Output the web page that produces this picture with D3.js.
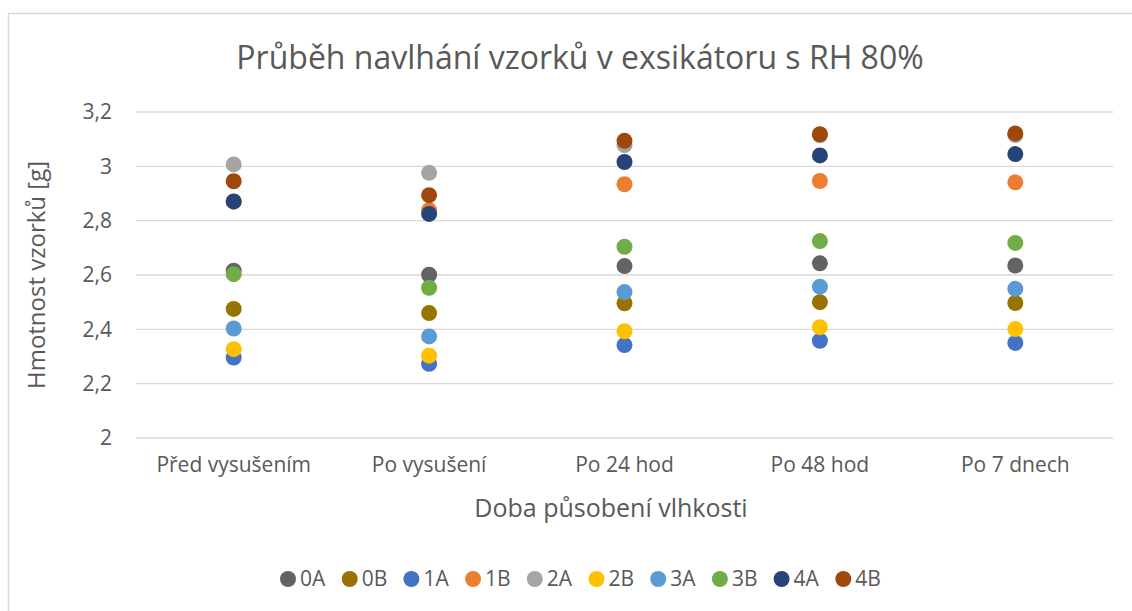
<!DOCTYPE html>
<html>
<head>
<meta charset="utf-8">
<script src="https://cdn.jsdelivr.net/npm/d3@7"></script>
<style>
  body { margin: 0; background: #fff; }
  text { font-family: "Open Sans", sans-serif; fill: #595959; }
</style>
</head>
<body>
<div id="chart-area"></div>
<script>
// popisky osy x
var categories = ["Před vysušením", "Po vysušení", "Po 24 hod", "Po 48 hod", "Po 7 dnech"];
var seriesNames = ["0A", "0B", "1A", "1B", "2A", "2B", "3A", "3B", "4A", "4B"];
var seriesColors = ["#636363", "#997300", "#4472C4", "#ED7D31", "#A5A5A5", "#FFC000", "#5B9BD5", "#70AD47", "#264478", "#9E480E"];
var yTicks = [2, 2.2, 2.4, 2.6, 2.8, 3, 3.2];

// hmotnosti [g]
var s0A = [2.616, 2.601, 2.633, 2.643, 2.635];
var s0B = [2.475, 2.460, 2.496, 2.500, 2.497];
var s1A = [2.296, 2.273, 2.342, 2.358, 2.350];
var s1B = [2.870, 2.839, 2.934, 2.946, 2.941];
var s2A = [3.007, 2.976, 3.078, 3.114, 3.115];
var s2B = [2.327, 2.303, 2.393, 2.408, 2.401];
var s3A = [2.403, 2.374, 2.537, 2.557, 2.549];
var s3B = [2.603, 2.553, 2.704, 2.725, 2.718];
var s4A = [2.871, 2.825, 3.016, 3.040, 3.045];
var s4B = [2.945, 2.894, 3.094, 3.118, 3.121];
var allSeries = [s0A, s0B, s1A, s1B, s2A, s2B, s3A, s3B, s4A, s4B];

const W = 1132, H = 611;
var margin = { top: 112, right: 19, bottom: 173, left: 136 };
var width = W - margin.left - margin.right,
    height = H - margin.top - margin.bottom;

var svg = d3.select("#chart-area")
    .append("svg")
        .attr("width", W)
        .attr("height", H);

// ramecek grafu
svg.append("rect")
    .attr("x", 8.5).attr("y", 13.5)
    .attr("width", W).attr("height", H)
    .attr("fill", "none")
    .attr("stroke", "#d9d9d9")
    .attr("stroke-width", 1.5);

var g = svg.append("g")
    .attr("transform", "translate(" + margin.left + ", " + margin.top + ")");

var x = d3.scaleBand().domain(categories).range([0, width]);
var y = d3.scaleLinear().domain([2, 3.2]).range([height, 0]);

// mrizka
g.append("g")
    .selectAll("line")
    .data(yTicks)
    .enter()
    .append("line")
        .attr("x1", 0).attr("x2", width)
        .attr("y1", d => y(d)).attr("y2", d => y(d))
        .attr("stroke", "#d9d9d9")
        .attr("stroke-width", 1.3);

var fmt = d => String(d).replace(".", ",");

var yAxis = g.append("g")
    .call(d3.axisLeft(y).tickValues(yTicks).tickFormat(fmt).tickSize(0).tickPadding(24));
yAxis.select(".domain").remove();
yAxis.selectAll("text").attr("font-size", "21px").attr("fill", "#595959").attr("font-family", "Open Sans");

var xAxis = g.append("g")
    .attr("transform", "translate(0, " + height + ")")
    .call(d3.axisBottom(x).tickSize(0).tickPadding(19));
xAxis.select(".domain").remove();
xAxis.selectAll("text").attr("font-size", "21px").attr("fill", "#595959").attr("font-family", "Open Sans");

// body
allSeries.forEach(function(vals, i) {
    g.append("g")
        .selectAll("circle")
        .data(vals)
        .enter()
        .append("circle")
            .attr("cx", (d, j) => x(categories[j]) + x.bandwidth() / 2)
            .attr("cy", d => y(d))
            .attr("r", 8)
            .attr("fill", seriesColors[i]);
});

// nadpis
svg.append("text")
    .attr("x", 580)
    .attr("y", 69)
    .attr("text-anchor", "middle")
    .attr("font-size", "32px")
    .text("Průběh navlhání vzorků v exsikátoru s RH 80%");

svg.append("text")
    .attr("x", 611)
    .attr("y", 517)
    .attr("text-anchor", "middle")
    .attr("font-size", "25px")
    .text("Doba působení vlhkosti");

svg.append("text")
    .attr("transform", "translate(45, " + (margin.top + height / 2) + ") rotate(-90)")
    .attr("text-anchor", "middle")
    .attr("font-size", "24px")
    .text("Hmotnost vzorků [g]");

// legenda
var legend = svg.append("g")
    .attr("transform", "translate(288, 579)");

var item = legend.selectAll("g")
    .data(seriesNames)
    .enter()
    .append("g")
        .attr("transform", (d, i) => "translate(" + (i * 61.7) + ", 0)");

item.append("circle")
    .attr("r", 8)
    .attr("fill", (d, i) => seriesColors[i]);

item.append("text")
    .attr("x", 12)
    .attr("dy", "0.35em")
    .attr("font-size", "21px")
    .text(d => d);
</script>
</body>
</html>
